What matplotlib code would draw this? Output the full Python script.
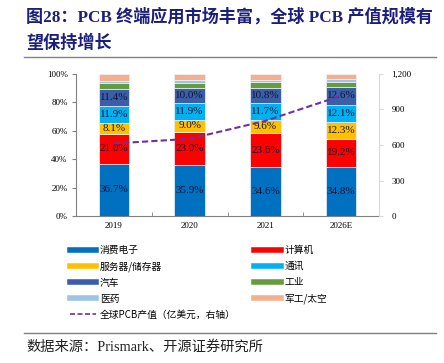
import numpy as np
import matplotlib.pyplot as plt
from matplotlib.lines import Line2D
from matplotlib.ticker import FuncFormatter, PercentFormatter

plt.rcParams['font.family'] = ['Liberation Serif', 'Noto Sans CJK SC']

years = ['2019', '2020', '2021', '2026E']
names = ['消费电子', '计算机', '服务器/储存器', '通讯', '汽车', '工业', '医药', '军工/太空']
consumer = [36.7, 35.9, 34.6, 34.8]
computer = [21.0, 23.0, 23.6, 19.2]
server = [8.1, 9.0, 9.6, 12.3]
comm = [11.9, 11.9, 11.7, 12.1]
auto = [11.4, 10.0, 10.8, 12.6]
industry = [4.6, 4.0, 3.8, 3.6]
medical = [1.6, 1.8, 1.9, 2.0]
military = [4.7, 4.4, 4.0, 3.4]
pcb_value = [613, 652, 804, 1016]  # 亿美元

colors = ['#0070C0', '#FF0000', '#FFC000', '#00B0F0', '#3A5EA8', '#649C3F', '#9DC3E6', '#F4B08E']
series = [consumer, computer, server, comm, auto, industry, medical, military]

fig = plt.figure(figsize=(4.44, 3.63), dpi=100)
ax = fig.add_axes([76/444, 1-216/363, 303/444, 142/363])
x = np.arange(len(years))
bottom = np.zeros(len(years))
for i, (vals, c) in enumerate(zip(series, colors)):
    vals = np.array(vals)
    ax.bar(x, vals, 0.4, bottom=bottom, color=c, edgecolor='#EEF3FA', linewidth=0.5, zorder=2)
    if i < 5:
        for xi, b, v in zip(x, bottom, vals):
            ax.text(xi, b + v/2, f'{v:.1f}%', ha='center', va='center', fontsize=8,
                    color='#141433', zorder=4)
    bottom += vals

ax.set_xlim(-0.5, 3.5)
ax.set_ylim(0, 100)
ax.set_yticks(np.arange(0, 101, 20))
ax.yaxis.set_major_formatter(PercentFormatter(decimals=0))
ax.set_xticks(x)
ax.set_xticklabels(years)
ax.set_xticks(np.arange(-0.5, 3.6, 1), minor=True)
ax.tick_params(axis='x', which='major', length=0, labelsize=6.5, pad=4)
ax.tick_params(axis='x', which='minor', direction='in', length=3, color='#808080')
ax.tick_params(axis='y', length=3, labelsize=6.5, color='#808080', pad=3)
for s in ['top', 'right']:
    ax.spines[s].set_visible(False)
ax.spines['left'].set_color('#808080')
ax.spines['bottom'].set_color('#808080')

ax2 = ax.twinx()
ax2.plot(x, pcb_value, color='#7030A0', lw=1.5, ls=(0, (3, 1.5)), zorder=5)
ax2.set_ylim(0, 1200)
ax2.set_yticks(np.arange(0, 1201, 300))
ax2.yaxis.set_major_formatter(FuncFormatter(lambda v, p: f'{int(v):,}'))
ax2.tick_params(axis='y', length=3, labelsize=6.5, color='#D9D9D9', pad=6)
for s in ['top', 'left', 'bottom']:
    ax2.spines[s].set_visible(False)
ax2.spines['right'].set_color('#D9D9D9')

# legend, filled column by column
h = [Line2D([], [], color=c, lw=4) for c in colors]
line_h = Line2D([], [], color='#7030A0', lw=1.2, ls=(0, (3, 1.5)))
order = [0, 2, 4, 6]
handles = [h[i] for i in order] + [line_h] + [h[i] for i in [1, 3, 5, 7]]
labels = [names[i] for i in order] + ['全球PCB产值（亿美元，右轴）'] + [names[i] for i in [1, 3, 5, 7]]
fig.legend(handles, labels, loc='upper left', bbox_to_anchor=(70/444, 1-245/363), ncol=2,
           frameon=False, borderpad=0, borderaxespad=0, handlelength=2.7, handletextpad=0.4,
           labelspacing=0.62, columnspacing=1.9,
           prop={'family': ['Noto Sans CJK SC'], 'size': 7})

fig.text(26/444, 1-17/363, '图28：PCB 终端应用市场丰富，全球 PCB 产值规模有', fontsize=12.3,
         fontweight='bold', color='#1B1F7A', va='center', ha='left')
fig.text(26/444, 1-43/363, '望保持增长', fontsize=12.3, fontweight='bold', color='#1B1F7A',
         va='center', ha='left')
fig.add_artist(Line2D([24/444, 436/444], [1-57/363, 1-57/363], color='#808080', lw=1))
fig.add_artist(Line2D([24/444, 436/444], [1-333/363, 1-333/363], color='#808080', lw=1))
fig.text(26/444, 1-347/363, '数据来源：Prismark、开源证券研究所', fontsize=10.3, color='#222222',
         va='center', ha='left')

fig.savefig('out.png', dpi=100)
